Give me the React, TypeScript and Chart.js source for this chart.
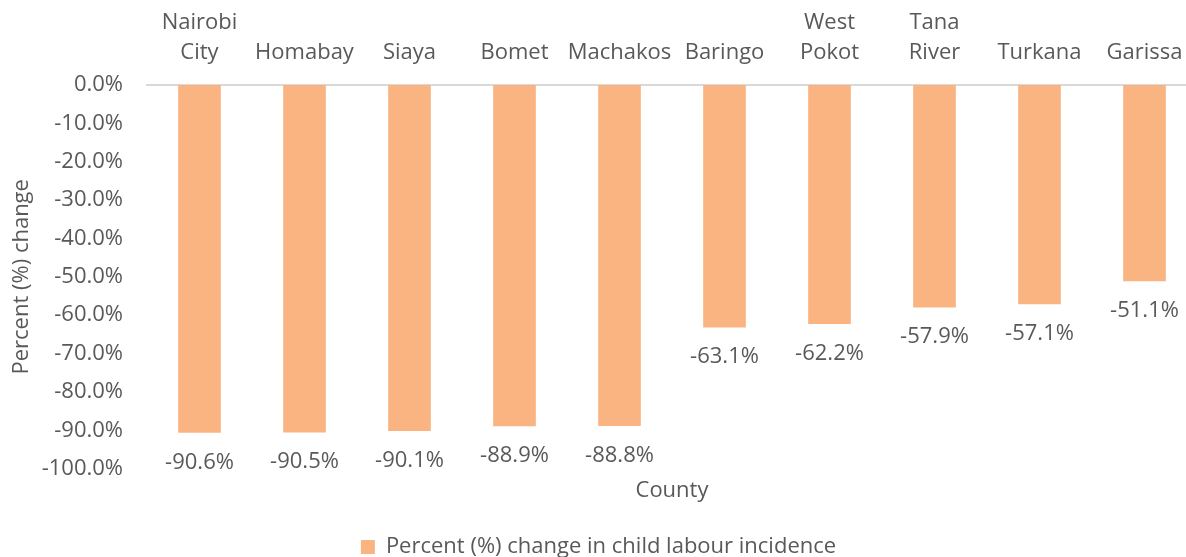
import React, { useEffect, useRef } from "react";
import { Chart, registerables } from "chart.js";

Chart.register(...registerables);

const counties: (string | string[])[] = [
  ["Nairobi", "City"],
  "Homabay",
  "Siaya",
  "Bomet",
  "Machakos",
  "Baringo",
  ["West", "Pokot"],
  ["Tana", "River"],
  "Turkana",
  "Garissa",
];
const changeValues = [-90.6, -90.5, -90.1, -88.9, -88.8, -63.1, -62.2, -57.9, -57.1, -51.1];
const seriesName = "Percent (%) change in child labour incidence";
const yAxisTitle = "Percent (%) change";
const xAxisTitle = "County";

const FONT = "'Open Sans', sans-serif";
const FS = 22;
const TEXT = "#595959";
const BAR = "#F9B482";

const dataLabels = {
  id: "dataLabels",
  afterDatasetsDraw(chart: any) {
    const ctx = chart.ctx;
    const meta = chart.getDatasetMeta(0);
    ctx.save();
    ctx.font = `${FS}px ${FONT}`;
    ctx.fillStyle = TEXT;
    ctx.textAlign = "center";
    ctx.textBaseline = "middle";
    meta.data.forEach((el: any, i: number) => {
      const v = chart.data.datasets[0].data[i] as number;
      ctx.fillText(v.toFixed(1) + "%", el.x, el.y + 30);
    });
    ctx.restore();
  },
};

export default function App() {
  const ref = useRef<HTMLCanvasElement | null>(null);
  useEffect(() => {
    if (!ref.current) return;
    const chart = new Chart(ref.current, {
      type: "bar",
      data: {
        labels: counties as any,
        datasets: [
          {
            label: seriesName,
            data: changeValues,
            backgroundColor: BAR,
            borderWidth: 0,
            barThickness: 42,
            xAxisID: "x",
            yAxisID: "y",
          },
        ],
      },
      options: {
        animation: false,
        responsive: true,
        maintainAspectRatio: false,
        layout: { padding: { left: 0, right: 13, top: 0, bottom: 0 } },
        plugins: {
          tooltip: { enabled: false },
          legend: {
            position: "bottom",
            labels: {
              font: { family: FONT, size: FS },
              color: TEXT,
              boxWidth: 14,
              boxHeight: 14,
              padding: 4,
            },
          },
        },
        scales: {
          x: {
            position: "top",
            grid: { display: false },
            border: { display: true, color: "#D9D9D9", width: 2 },
            ticks: {
              font: { family: FONT, size: FS, lineHeight: 1.36 },
              color: TEXT,
              padding: 9,
              maxRotation: 0,
              autoSkip: false,
            },
            afterFit: (scale: any) => {
              scale.height = 85;
            },
          },
          x2: {
            type: "category",
            position: "bottom",
            grid: { display: false, drawTicks: false },
            border: { display: false },
            ticks: { display: false },
            title: {
              display: true,
              text: xAxisTitle,
              font: { family: FONT, size: FS },
              color: TEXT,
              padding: { top: 9, bottom: 28 },
            },
          },
          y: {
            min: -100,
            max: 0,
            grid: { display: false },
            border: { display: false },
            ticks: {
              stepSize: 10,
              font: { family: FONT, size: FS },
              color: TEXT,
              padding: 16,
              callback: (v: any) => Number(v).toFixed(1) + "%",
            },
            title: {
              display: true,
              text: yAxisTitle,
              font: { family: FONT, size: FS },
              color: TEXT,
              padding: { top: 9, bottom: 0 },
            },
            afterFit: (scale: any) => {
              scale.width = 147;
            },
          },
        },
      },
      plugins: [dataLabels],
    });
    return () => chart.destroy();
  }, []);
  return (
    <div
      style={{
        position: "absolute",
        left: 0,
        top: 0,
        width: 1186,
        height: 557,
        overflow: "hidden",
        background: "#fff",
      }}
    >
      <div style={{ position: "absolute", left: 0, top: 0, width: 1210, height: 568 }}>
        <canvas ref={ref} />
      </div>
    </div>
  );
}
